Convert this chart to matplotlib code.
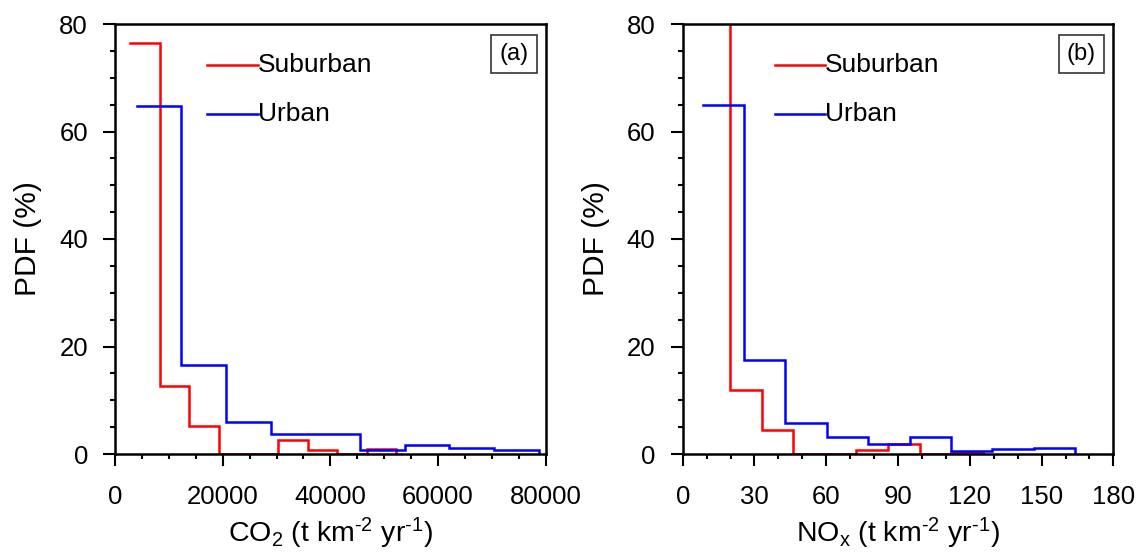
import numpy as np
import matplotlib
matplotlib.use("Agg")
import matplotlib.pyplot as plt
from matplotlib.ticker import MultipleLocator

plt.rcParams['font.family'] = ['Liberation Sans', 'DejaVu Sans']
plt.rcParams['mathtext.default'] = 'regular'

# (a) CO2 分布（bin 边界与 PDF 值，读图估计）
co2_sub_edges = [2786, 8286, 13786, 19286, 24786, 30286, 35786, 41286, 46786, 52286]
co2_sub_pdf = [76.4, 12.65, 5.3, 0, 0, 2.65, 0.8, 0, 0.85]
co2_urb_edges = [4025, 12325, 20625, 28925, 37225, 45525, 53825, 62125, 70425, 78725]
co2_urb_pdf = [64.7, 16.5, 5.9, 3.8, 3.8, 0.8, 1.7, 1.15, 0.8]

# (b) NOx 分布
nox_sub_edges = [6.6, 19.8, 33.0, 46.2, 59.4, 72.6, 85.8, 99.0, 112.2, 125.4]
nox_sub_pdf = [85, 11.9, 4.5, 0, 0, 0.8, 1.8, 0, 0.4]
nox_urb_edges = [8.3, 25.6, 42.9, 60.2, 77.5, 94.8, 112.1, 129.4, 146.7, 164.0]
nox_urb_pdf = [64.9, 17.4, 5.7, 3.15, 1.9, 3.25, 0.5, 0.9, 1.2]

HY = '\u2010'  # 上标里用连字符，不用长减号
panels = [
    dict(sub=(co2_sub_edges, co2_sub_pdf), urb=(co2_urb_edges, co2_urb_pdf),
         xlim=(0, 80000), major=20000, minor=5000,
         xlabel=f'CO$_2$ (t km$^{{{HY}2}}$ yr$^{{{HY}1}}$)', tag='(a)', left=115),
    dict(sub=(nox_sub_edges, nox_sub_pdf), urb=(nox_urb_edges, nox_urb_pdf),
         xlim=(0, 180), major=30, minor=10,
         xlabel=f'NO$_x$ (t km$^{{{HY}2}}$ yr$^{{{HY}1}}$)', tag='(b)', left=682.7),
]

W, H = 1139, 552
fig = plt.figure(figsize=(W / 100, H / 100), dpi=100)


def draw_steps(ax, edges, pdf, color):
    # 阶梯线：从第一个 bin 顶部开始，最后落回 0
    y = list(pdf) + [0]
    ax.plot(edges, y, drawstyle='steps-post', color=color, lw=1.8,
            solid_joinstyle='miter')


for p in panels:
    ax = fig.add_axes([p['left'] / W, (H - 454) / H, 430.7 / W, 430 / H])
    draw_steps(ax, *p['sub'], color='#ff0000')
    draw_steps(ax, *p['urb'], color='#0000ff')

    ax.set_xlim(*p['xlim'])
    ax.set_ylim(0, 80)
    ax.xaxis.set_major_locator(MultipleLocator(p['major']))
    ax.xaxis.set_minor_locator(MultipleLocator(p['minor']))
    ax.yaxis.set_major_locator(MultipleLocator(20))
    ax.yaxis.set_minor_locator(MultipleLocator(5))
    ax.tick_params(which='both', direction='out', top=False, right=False,
                   width=1.5, labelsize=18.5)
    ax.tick_params(which='major', length=8.5)
    ax.tick_params(axis='y', which='major', pad=11)
    ax.tick_params(axis='x', which='major', pad=14)
    ax.tick_params(which='minor', length=3.8)
    for s in ax.spines.values():
        s.set_linewidth(1.8)

    ax.set_xlabel(p['xlabel'], fontsize=20.5, labelpad=5)
    ax.set_ylabel('PDF (%)', fontsize=21.5, labelpad=12)

    # 图例：手绘线段 + 文字
    for yy, lab, col in [(0.905, 'Suburban', '#ff0000'), (0.79, 'Urban', '#0000ff')]:
        ax.plot([0.214, 0.331], [yy, yy], transform=ax.transAxes, color=col, lw=1.8)
        ax.text(0.331, yy, lab, transform=ax.transAxes, fontsize=19,
                va='center', ha='left')

    ax.text(0.9257, 0.93, p['tag'], transform=ax.transAxes, fontsize=17,
            ha='center', va='center',
            bbox=dict(boxstyle='square,pad=0.35', fc='white', ec='#333333', lw=1.2))

fig.savefig('out.png', dpi=100)
